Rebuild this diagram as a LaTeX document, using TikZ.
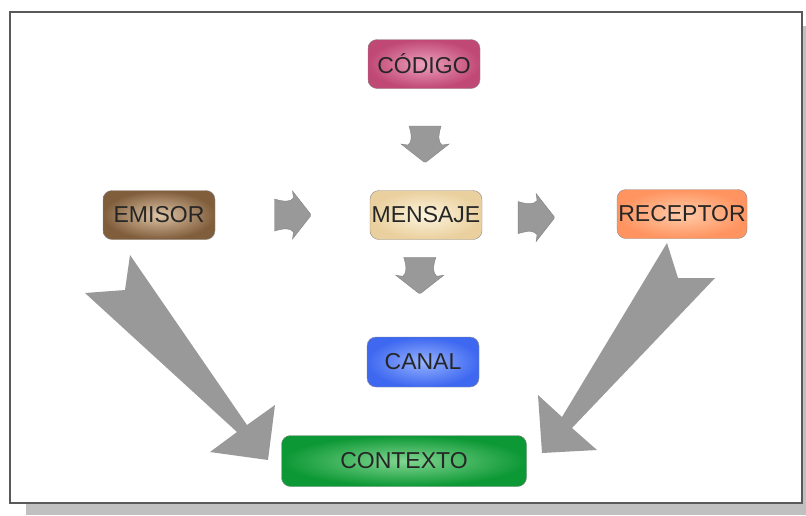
\documentclass[tikz,border=0pt]{standalone}
\usepackage{fontspec}
\setmainfont{Liberation Sans}
\usetikzlibrary{calc}
\definecolor{gris}{RGB}{153,153,153}
\definecolor{sombra}{RGB}{192,192,192}
\tikzset{
  caja/.style={draw=black!45, rounded corners=9pt, inner sep=0pt,
    minimum width=112pt, minimum height=49pt, text=black!85,
    font=\fontsize{23}{23}\selectfont},
  flecha/.pic={
    \filldraw[fill=gris, draw=gris!85!black, line width=0.4pt]
      (-18,-16) .. controls (-8,-13) and (-2,-13) .. (1,-17) -- (0,-24)
      -- (18,-1) -- (18,1) -- (0,24) -- (1,17)
      .. controls (-2,13) and (-8,13) .. (-18,16) -- cycle;
  }
}
\begin{document}
\begin{tikzpicture}[x=1pt,y=-1pt]
  \useasboundingbox (0,0) rectangle (806,515);
  % marco con sombra
  \fill[sombra] (26,26) rectangle (806,515);
  \draw[fill=white, draw=black!65, line width=1.5pt] (10,12) rectangle (802,503);
  % cajas
  \node[caja, inner color={rgb,255:red,236;green,160;blue,188}, outer color={rgb,255:red,192;green,72;blue,116}] (codigo) at (424,64) {CÓDIGO};
  \node[caja, inner color={rgb,255:red,222;green,196;blue,166}, outer color={rgb,255:red,128;green,94;blue,60}] (emisor) at (159,215) {EMISOR};
  \node[caja, inner color={rgb,255:red,252;green,244;blue,222}, outer color={rgb,255:red,234;green,208;blue,158}] (mensaje) at (426,215) {MENSAJE};
  \node[caja, minimum width=130pt, inner color={rgb,255:red,255;green,204;blue,170}, outer color={rgb,255:red,255;green,148;blue,96}] (receptor) at (682,214) {RECEPTOR};
  \node[caja, minimum height=50pt, inner color={rgb,255:red,150;green,178;blue,255}, outer color={rgb,255:red,62;green,104;blue,240}] (canal) at (423,362) {CANAL};
  \node[caja, minimum width=245pt, minimum height=51pt, inner color={rgb,255:red,130;green,214;blue,146}, outer color={rgb,255:red,12;green,152;blue,52}] (contexto) at (404,461) {CONTEXTO};
  % flechas pequeñas
  \pic[rotate=-90] at ($(codigo)!0.53!(mensaje)$) {flecha};
  \pic at ($(emisor)!0.5!(mensaje)$) {flecha};
  \pic at ($(mensaje)!0.43!(receptor)+(0,3)$) {flecha};
  \pic[rotate=-90] at ($(mensaje)!0.41!(canal)+(-5,0)$) {flecha};
  % flechas grandes hacia el contexto
  \fill[gris] (130,255) -- (247,425) -- (275,405) -- (268,460) -- (210,452)
    -- (237,432) -- (85,293) -- (125,290) -- cycle;
  \fill[gris] (667,243) -- (678,278) -- (715,278) -- (572,428) -- (597,450)
    -- (542,453) -- (538,395) -- (562,417) -- cycle;
\end{tikzpicture}
\end{document}
